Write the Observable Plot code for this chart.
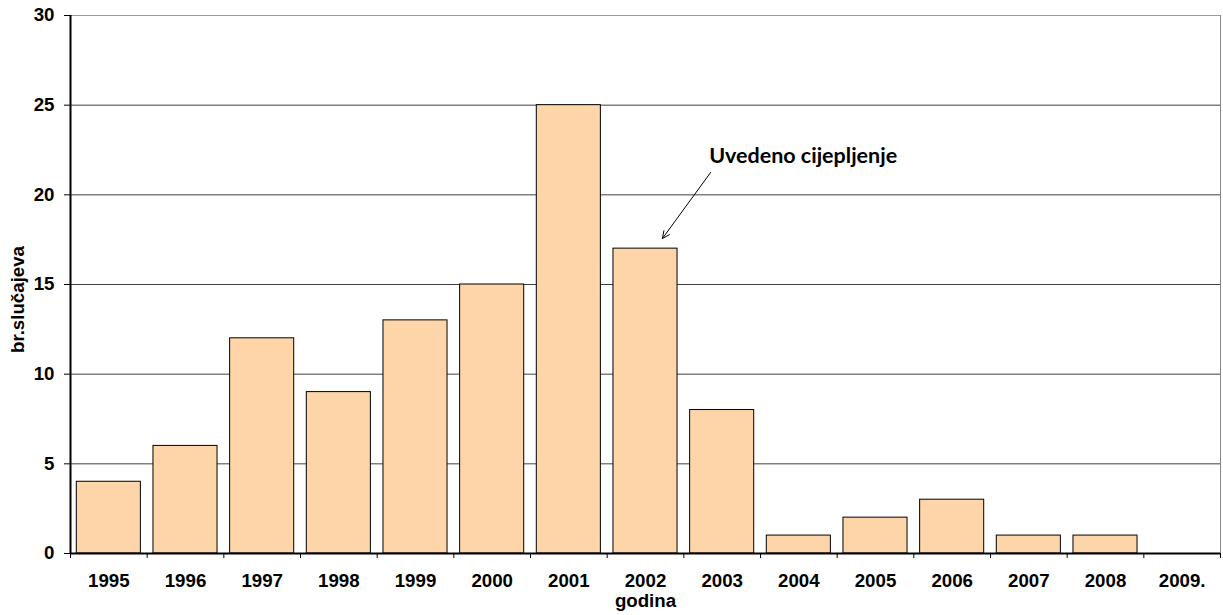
<!DOCTYPE html>
<html><head><meta charset="utf-8">
<script src="https://cdn.jsdelivr.net/npm/d3@7"></script>
<script src="https://cdn.jsdelivr.net/npm/@observablehq/plot@0.6"></script>
<style>body{margin:0;background:#fff}</style>
</head><body><div id="chart"></div>
<script>
const years = [1995, 1996, 1997, 1998, 1999, 2000, 2001, 2002, 2003, 2004, 2005, 2006, 2007, 2008, 2009];
const yearLabels = ["1995", "1996", "1997", "1998", "1999", "2000", "2001", "2002", "2003", "2004", "2005", "2006", "2007", "2008", "2009."];
const cases = [4, 6, 12, 9, 13, 15, 25, 17, 8, 1, 2, 3, 1, 1, 0];
const yTicks = [0, 5, 10, 15, 20, 25, 30];
const gridValues = [5, 10, 15, 20, 25];
const yLabel = "br.slučajeva";
const xLabel = "godina";
const annotationArrow = [{x1: 2002.85, y1: 21.25, x2: 2002.22, y2: 17.56}];
const annotationLabel = [{x: 2002.83, y: 21.75, text: "Uvedeno cijepljenje"}];

const data = years.map((year, i) => ({year, value: cases[i]}));
const boundaries = years.map(y => y - 0.5).concat([years[years.length - 1] + 0.5]);
const xDomain = [boundaries[0], boundaries[boundaries.length - 1]];

const chart = Plot.plot({
  width: 1223,
  height: 615,
  marginLeft: 70,
  marginRight: 3,
  marginTop: 15,
  marginBottom: 62,
  style: {fontFamily: "'Liberation Sans', Arial, sans-serif", fontWeight: "bold", fontSize: "18.7px", color: "#000", background: "#fff"},
  x: {type: "linear", domain: xDomain},
  y: {domain: [0, 30]},
  marks: [
    Plot.ruleY(gridValues, {stroke: "#404040", strokeWidth: 1}),
    Plot.ruleY([30], {stroke: "#999", strokeWidth: 1}),
    Plot.ruleX([xDomain[1]], {stroke: "#888", strokeWidth: 1}),
    Plot.rectY(data, {x1: d => d.year - 0.5, x2: d => d.year + 0.5, y1: 0, y2: "value", insetLeft: 6.3, insetRight: 6.3, fill: "#FDD5A8", stroke: "#000", strokeWidth: 1}),
    Plot.axisY({ticks: yTicks, tickSize: 6, tickPadding: 10, label: null, fontSize: "18.7px", fontWeight: "bold"}),
    Plot.axisX({ticks: boundaries, tickSize: 5, tickFormat: () => "", label: null}),
    Plot.axisX({ticks: years, tickSize: 0, tickPadding: 20, tickFormat: d => yearLabels[years.indexOf(d)], label: null, fontSize: "18.7px", fontWeight: "bold"}),
    Plot.ruleY([0], {stroke: "#000", strokeWidth: 2}),
    Plot.ruleX([xDomain[0]], {stroke: "#000", strokeWidth: 2}),
    Plot.arrow(annotationArrow, {x1: "x1", y1: "y1", x2: "x2", y2: "y2", stroke: "#000", strokeWidth: 1, headLength: 12, headAngle: 50}),
    Plot.text(annotationLabel, {x: "x", y: "y", text: "text", textAnchor: "start", lineAnchor: "bottom", fontFamily: "Lato, 'Open Sans', sans-serif", fontWeight: "bold", fontSize: 21.5, fill: "#000"}),
    Plot.text([xLabel], {frameAnchor: "bottom", dy: 53.5, text: d => d, textAnchor: "middle", fontSize: 18.7, fontWeight: "bold", fill: "#000"}),
    Plot.text([yLabel], {frameAnchor: "left", dx: -52, dy: 15, rotate: -90, text: d => d, textAnchor: "middle", fontSize: 18.7, fontWeight: "bold", fill: "#000"})
  ]
});
document.getElementById("chart").appendChild(chart);
</script>
</body></html>
